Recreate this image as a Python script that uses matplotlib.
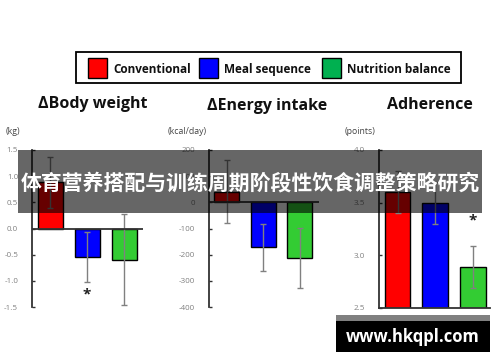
import matplotlib
matplotlib.use("Agg")
import matplotlib.pyplot as plt
from matplotlib.patches import Rectangle

plt.rcParams['font.family'] = ['Open Sans', 'DejaVu Sans']

groups = ["Conventional", "Meal sequence", "Nutrition balance"]
bar_colors = ["#FF0000", "#0000FF", "#33CC33"]
legend_colors = ["#FF0000", "#0000FF", "#00B050"]

bw_vals = [0.88, -0.55, -0.60]
bw_err = [0.49, 0.48, 0.87]
ei_vals = [40, -172, -213]
ei_err = [120, 90, 115]
ad_vals = [3.60, 3.50, 2.89]
ad_err = [0.20, 0.20, 0.20]

bw_ticks = [1.5, 1.0, 0.5, 0.0, -0.5, -1.0, -1.5]
ei_ticks = [200, 100, 0, -100, -200, -300, -400]
ad_ticks = [4.0, 3.5, 3.0, 2.5]

W, H = 500, 362
fig = plt.figure(figsize=(5.0, 3.62), dpi=100)
fig.patch.set_facecolor("white")

def px_axes(x0, x1, ytop, ybot):
    return fig.add_axes([x0 / W, 1 - ybot / H, (x1 - x0) / W, (ybot - ytop) / H])

def style(ax, ticks, labels, ylim, xlim):
    ax.set_ylim(*ylim)
    ax.set_xlim(*xlim)
    for s in ["top", "right", "bottom"]:
        ax.spines[s].set_visible(False)
    ax.spines["left"].set_color("#333333")
    ax.spines["left"].set_linewidth(1.3)
    ax.set_xticks([])
    ax.set_yticks(ticks)
    ax.set_yticklabels(labels)
    ax.tick_params(axis="y", direction="in", length=2.5, width=1, color="#333333",
                   labelsize=5.8, labelcolor="#808080", pad=10)
    ax.patch.set_alpha(0)

x = [0, 1, 2]

def draw_bars(ax, vals, errs, bottom=0):
    heights = [v - bottom for v in vals]
    ax.bar(x, heights, bottom=bottom, width=0.68, color=bar_colors,
           edgecolor="black", linewidth=1.0, zorder=2)
    ax.errorbar(x, vals, yerr=errs, fmt="none", ecolor="#808080",
                elinewidth=1.0, capsize=2, capthick=1.0, zorder=3)

# Panel 1: Body weight
ax1 = px_axes(32, 143, 150, 307)
style(ax1, bw_ticks, [f"{t:.1f}" for t in bw_ticks], (-1.5, 1.5), (-0.49, 2.51))
draw_bars(ax1, bw_vals, bw_err)
ax1.axhline(0, color="#333333", lw=1.3, zorder=4)
ax1.text(1, -1.27, "*", ha="center", va="center", fontsize=11, fontweight="bold",
         color="#222222")

# Panel 2: Energy intake
ax2 = px_axes(209, 319, 150, 307)
style(ax2, ei_ticks, [str(t) for t in ei_ticks], (-400, 200), (-0.48, 2.53))
draw_bars(ax2, ei_vals, ei_err)
ax2.axhline(0, color="#333333", lw=1.3, zorder=4)

# Panel 3: Adherence
ax3 = px_axes(379, 490, 150, 308)
style(ax3, ad_ticks, [f"{t:.1f}" for t in ad_ticks], (2.5, 4.0), (-0.49, 2.45))
ax3.spines["bottom"].set_visible(True)
ax3.spines["bottom"].set_color("#333333")
ax3.spines["bottom"].set_linewidth(1.3)
draw_bars(ax3, ad_vals, ad_err, bottom=2.5)
ax3.text(2, 3.33, "*", ha="center", va="center", fontsize=11, fontweight="bold",
         color="#222222")

# Overlay for titles, legend and banner
ov = fig.add_axes([0, 0, 1, 1])
ov.set_xlim(0, W)
ov.set_ylim(H, 0)
ov.axis("off")
ov.patch.set_alpha(0)

# legend box
ov.add_patch(Rectangle((76, 52), 385, 31, facecolor="white", edgecolor="black", lw=1.3))
leg_x = [88, 199, 322]
for lx, c, g in zip(leg_x, legend_colors, groups):
    ov.add_patch(Rectangle((lx, 57.5), 19, 20, facecolor=c, edgecolor="black", lw=1.0))
    ov.text(lx + 25, 68, g, ha="left", va="center_baseline", fontsize=8.5,
            fontweight="bold", color="#111111")

# titles
ov.text(93, 104, "ΔBody weight", ha="center", va="center", fontsize=11.5,
        fontweight="bold", color="#111111")
ov.text(267, 106, "ΔEnergy intake", ha="center", va="center", fontsize=11.5,
        fontweight="bold", color="#111111")
ov.text(430, 105, "Adherence", ha="center", va="center", fontsize=11.5,
        fontweight="bold", color="#111111")

# units
ov.text(6, 131, "(kg)", ha="left", va="center", fontsize=6.3, color="#444444")
ov.text(168, 131, "(kcal/day)", ha="left", va="center", fontsize=6.3, color="#444444")
ov.text(345, 131, "(points)", ha="left", va="center", fontsize=6.3, color="#444444")

# banner
ov.add_patch(Rectangle((18, 150), 464, 63, facecolor="black", alpha=0.6,
                       edgecolor="none", zorder=10))
ov.text(250, 183, "体育营养搭配与训练周期阶段性饮食调整策略研究", ha="center", va="center",
        fontsize=15, fontweight="bold", color="white",
        family=["Noto Sans CJK SC", "DejaVu Sans"], zorder=11)

# watermark
ov.add_patch(Rectangle((336, 315), 154, 6, facecolor="#808080", edgecolor="none", zorder=10))
ov.add_patch(Rectangle((336, 321), 154, 31, facecolor="black", edgecolor="none", zorder=10))
ov.text(413, 337, "www.hkqpl.com", ha="center", va="center", fontsize=12,
        fontweight="bold", color="white", zorder=11)

fig.savefig("out.png", dpi=100)
